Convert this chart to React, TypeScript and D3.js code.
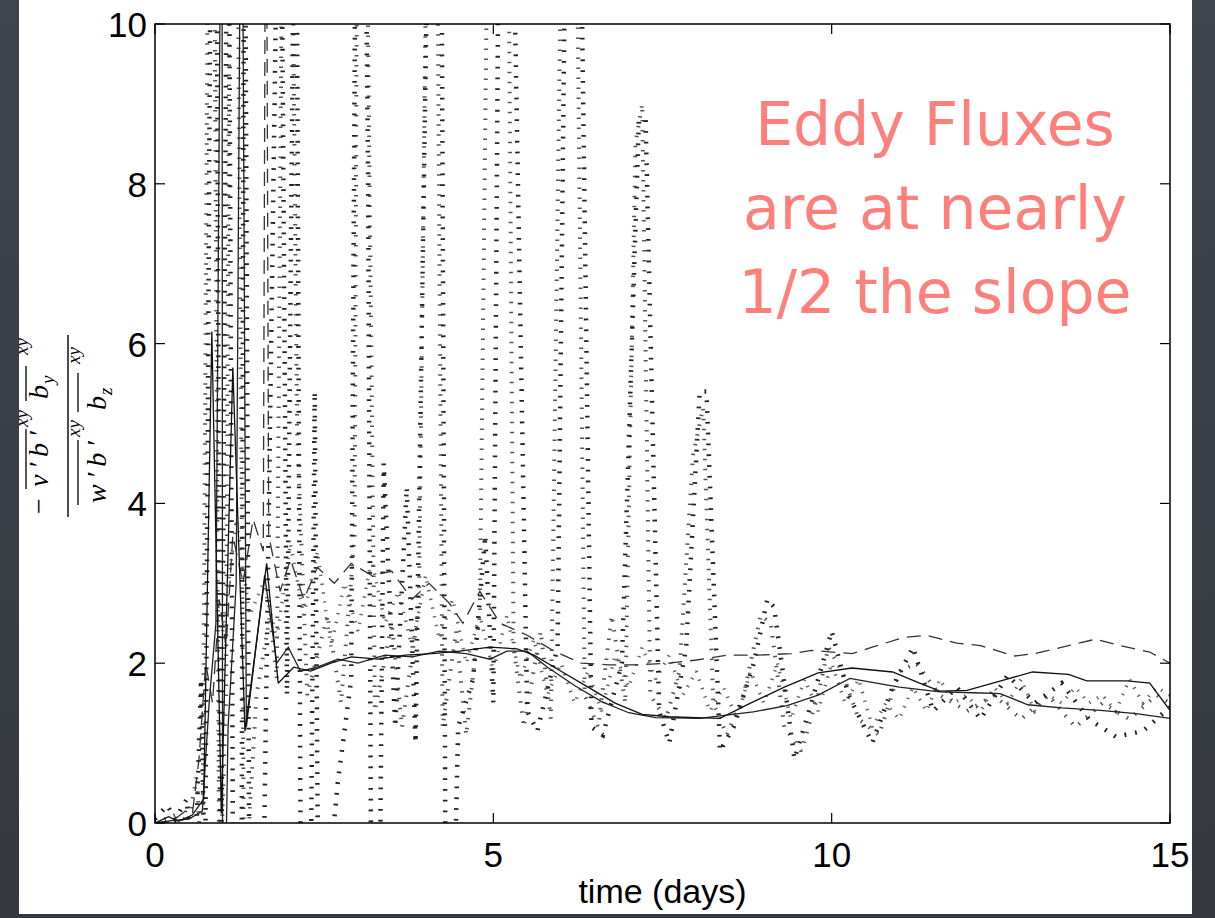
import React from 'react';
import * as d3 from 'd3';

type P = [number, number];

const xTicks = [0, 5, 10, 15];
const yTicks = [0, 2, 4, 6, 8, 10];
const xLabel = 'time (days)';
const titleLines = ['Eddy Fluxes', 'are at nearly', '1/2 the slope'];

// solid curves
const solidA: P[] = [[0,0],[0.2,0.08],[0.35,0.02],[0.55,0.1],[0.72,0.3],[0.84,6.15],[0.98,0.12],[1.15,5.7],[1.33,1.15],[1.65,3.25],[1.82,1.75],[2.05,1.95],[2.3,1.9],[2.6,2.0],[2.9,2.08],[3.3,2.05],[3.7,2.1],[4.1,2.12],[4.5,2.15],[4.95,2.2],[5.35,2.18],[5.6,2.1],[6.0,1.9],[6.4,1.7],[6.8,1.5],[7.2,1.36],[7.6,1.33],[8.0,1.32],[8.35,1.31],[8.8,1.5],[9.3,1.7],[9.8,1.88],[10.3,1.94],[10.9,1.89],[11.3,1.75],[11.6,1.65],[12.0,1.66],[12.5,1.78],[12.97,1.89],[13.5,1.86],[13.77,1.78],[14.37,1.78],[14.7,1.75],[15,1.41]];
const solidB: P[] = [[0,0],[0.25,0.03],[0.5,0.05],[0.7,0.15],[0.8,1.5],[0.9,2.5],[0.99,14],[1.0,-3],[1.08,1.2],[1.2,3.0],[1.28,14],[1.35,1.2],[1.62,3.1],[1.8,2.0],[1.97,2.2],[2.15,1.9],[2.4,1.95],[2.7,2.05],[3.0,2.0],[3.4,2.1],[3.8,2.08],[4.2,2.15],[4.6,2.12],[4.95,2.05],[5.2,2.15],[5.5,2.15],[5.8,1.95],[6.2,1.72],[6.6,1.52],[7.0,1.38],[7.4,1.32],[8.05,1.31],[8.84,1.39],[9.34,1.47],[9.8,1.6],[10.27,1.81],[10.6,1.76],[11.0,1.7],[11.6,1.64],[12.1,1.63],[12.49,1.62],[12.9,1.48],[13.4,1.44],[13.97,1.41],[14.5,1.37],[15,1.31]];
// long dashed curve
const dashed: P[] = [[0,0],[0.25,0.02],[0.45,0.15],[0.55,0.1],[0.65,0.8],[0.75,2.0],[0.85,1.5],[0.95,2.8],[1.05,2.2],[1.15,3.6],[1.3,3.0],[1.45,3.8],[1.6,3.4],[1.64,14],[1.68,3.6],[1.85,2.9],[2.0,3.3],[2.2,2.8],[2.4,3.2],[2.65,3.0],[2.9,3.25],[3.2,3.1],[3.5,3.15],[3.8,2.8],[4.05,3.0],[4.35,2.75],[4.55,2.5],[4.8,2.9],[5.1,2.5],[5.5,2.35],[5.9,2.15],[6.3,2.0],[6.7,1.98],[7.1,1.98],[7.6,2.0],[8.0,2.04],[8.45,2.1],[8.9,2.1],[9.4,2.12],[9.7,2.16],[10.3,2.12],[10.6,2.2],[11.05,2.32],[11.4,2.35],[11.85,2.25],[12.2,2.22],[12.7,2.09],[13.0,2.12],[13.5,2.22],[13.9,2.3],[14.26,2.22],[14.7,2.14],[15,2.0]];
// dotted curves
const dotA: P[] = [[0,0.05],[0.18,0.22],[0.3,0.05],[0.47,0.3],[0.58,-1],[0.68,1.8],[0.74,-1],[0.84,14],[0.9,14],[0.97,-2],[1.08,14],[1.16,-2],[1.28,-1],[1.32,14],[1.4,-2],[1.6,-1],[1.85,14],[1.95,1.6],[2.08,14],[2.16,-2],[2.3,-1],[2.36,5.4],[2.42,-2],[2.7,0.5],[2.9,1.8],[2.98,14],[3.08,14],[3.15,8.0],[3.2,-2],[3.32,-1],[3.38,4.5],[3.55,1.2],[3.72,4.2],[3.85,1.0],[4.08,14],[4.22,14],[4.3,-2],[4.42,-1],[4.48,1.2],[4.7,1.8],[4.88,3.6],[5.0,1.5],[5.1,14],[5.24,14],[5.5,1.4],[5.65,1.15],[5.95,2.2],[6.1,14],[6.25,14],[6.45,1.2],[6.62,1.1],[6.9,2.0],[7.15,8.8],[7.25,8.8],[7.45,1.4],[7.6,1.0],[7.85,2.2],[8.05,5.4],[8.15,5.4],[8.35,0.9],[8.55,1.2],[8.85,2.0],[9.05,2.8],[9.15,2.7],[9.45,0.8],[9.7,1.5],[10.0,2.4],[10.25,1.6],[10.6,1.0],[10.9,1.7],[11.2,2.2],[11.5,1.4],[11.85,1.7],[12.2,1.3],[12.6,1.85],[13.0,1.5],[13.4,1.75],[13.8,1.3],[14.2,1.08],[14.6,1.15],[15,1.45]];
const dotB: P[] = [[0,0],[0.3,0.1],[0.5,0.02],[0.62,0.6],[0.7,-1],[0.8,14],[0.86,14],[0.95,-1],[1.05,1.5],[1.12,14],[1.2,14],[1.32,-1],[1.5,1.6],[1.7,2.6],[1.8,1.8],[1.9,14],[2.0,14],[2.1,4.9],[2.25,1.6],[2.55,2.6],[2.75,1.5],[2.95,3.6],[3.0,14],[3.1,14],[3.25,1.4],[3.5,2.5],[3.65,1.2],[3.9,2.7],[4.05,14],[4.15,14],[4.25,1.2],[4.45,2.4],[4.6,1.1],[4.8,2.6],[4.95,14],[5.2,14],[5.3,2.2],[5.45,1.2],[5.7,2.4],[5.85,1.3],[6.05,14],[6.2,14],[6.35,1.6],[6.55,1.2],[6.75,2.6],[6.95,1.5],[7.1,8.5],[7.2,9],[7.32,1.6],[7.55,1.3],[7.75,1.9],[7.95,4.6],[8.1,5.2],[8.25,1.5],[8.45,1.1],[8.7,1.6],[8.95,2.6],[9.1,2.5],[9.3,1.2],[9.55,0.9],[9.8,1.6],[9.95,2.2],[10.15,1.9],[10.4,1.3],[10.7,1.1],[11.0,1.9],[11.25,2.0],[11.6,1.6],[12.0,1.4],[12.4,1.6],[12.8,1.3],[13.2,1.6],[13.6,1.2],[14.0,1.5],[14.4,1.3],[14.8,1.6],[15,1.5]];
const dotC: P[] = [[1.0,2.4],[1.2,3.8],[1.4,2.6],[1.6,3.0],[1.8,2.3],[2.0,3.5],[2.2,2.6],[2.4,3.4],[2.6,2.2],[2.8,3.0],[3.0,2.4],[3.2,3.3],[3.4,2.5],[3.6,2.9],[3.8,2.2],[4.0,3.1],[4.2,2.3],[4.4,2.8],[4.6,2.0],[4.8,2.6],[5.0,1.9],[5.2,2.6],[5.4,1.8],[5.6,2.3],[5.8,1.6],[6.0,2.0],[6.2,1.5],[6.4,1.9],[6.6,1.4],[6.8,2.1],[7.0,1.7],[7.2,2.2],[7.4,1.8],[7.6,2.1],[7.8,1.6],[8.0,1.9],[8.2,1.4],[8.4,1.7],[8.6,1.3],[8.8,1.9],[9.0,1.5],[9.2,2.0],[9.4,1.3],[9.6,1.8],[9.8,1.4],[10.0,2.0],[10.2,1.5],[10.4,1.8],[10.6,1.2],[10.8,1.5],[11.0,1.3],[11.2,1.7],[11.4,1.4],[11.6,1.8],[11.8,1.5],[12.0,1.6],[12.2,1.4],[12.4,1.7],[12.6,1.5],[12.8,1.8],[13.0,1.4],[13.2,1.6],[13.4,1.5],[13.6,1.7],[13.8,1.5],[14.0,1.6],[14.2,1.4],[14.4,1.8],[14.6,1.5],[14.8,1.7],[15,1.6]];

export default function App() {
  const W = 1215, H = 918;
  const L = 155, R = 1170, T = 24, B = 823;
  const x = d3.scaleLinear().domain([0, 15]).range([L, R]);
  const y = d3.scaleLinear().domain([0, 10]).range([B, T]);
  const line = d3.line<P>().x(d => x(d[0])).y(d => y(d[1]));
  const tickFont = "'Liberation Sans', Arial, Helvetica, sans-serif";
  const mathFont = "'Liberation Serif', 'Times New Roman', serif";

  const series = [
    { d: dotC, stroke: '#666', w: 3.5, dash: '1.4 7.5' },
    { d: dotB, stroke: '#555', w: 4, dash: '1.5 8.5' },
    { d: dotA, stroke: '#222', w: 4.5, dash: '1.8 9' },
    { d: dashed, stroke: '#333', w: 1.3, dash: '14 8' },
    { d: solidB, stroke: '#222', w: 1.3, dash: undefined },
    { d: solidA, stroke: '#111', w: 1.3, dash: undefined },
  ];

  return (
    <svg width={W} height={H} style={{ position: 'absolute', left: 0, top: 0 }}>
      <defs>
        <clipPath id="plotclip"><rect x={L} y={T} width={R - L} height={B - T} /></clipPath>
        <linearGradient id="bg" x1="0" y1="0" x2="0" y2="1">
          <stop offset="0" stopColor="#40444d" />
          <stop offset="1" stopColor="#35383f" />
        </linearGradient>
      </defs>
      <rect x={0} y={0} width={W} height={H} fill="url(#bg)" />
      <rect x={19} y={0} width={1173} height={914} fill="#fff" />

      <g clipPath="url(#plotclip)">
        {series.map((s, i) => (
          <path key={i} d={line(s.d) || ''} fill="none" stroke={s.stroke} strokeWidth={s.w}
            strokeDasharray={s.dash} strokeLinecap="butt" strokeLinejoin="miter" strokeMiterlimit={2} />
        ))}
      </g>

      {/* frame */}
      <rect x={L} y={T} width={R - L} height={B - T} fill="none" stroke="#000" strokeWidth={1.5} />
      {xTicks.map(t => (
        <g key={'x' + t}>
          <line x1={x(t)} x2={x(t)} y1={B} y2={B - 10} stroke="#000" strokeWidth={1.2} />
          <line x1={x(t)} x2={x(t)} y1={T} y2={T + 10} stroke="#000" strokeWidth={1.2} />
          <text x={x(t)} y={867} textAnchor="middle" fontFamily={tickFont} fontSize={35} fill="#000">{t}</text>
        </g>
      ))}
      {yTicks.map(t => (
        <g key={'y' + t}>
          <line x1={L} x2={L + 10} y1={y(t)} y2={y(t)} stroke="#000" strokeWidth={1.2} />
          <line x1={R} x2={R - 10} y1={y(t)} y2={y(t)} stroke="#000" strokeWidth={1.2} />
          <text x={147} y={y(t) + 13} textAnchor="end" fontFamily={tickFont} fontSize={35} fill="#000">{t}</text>
        </g>
      ))}
      <text x={(L + R) / 2} y={903} textAnchor="middle" fontFamily={tickFont} fontSize={34} fill="#000">{xLabel}</text>

      {/* y label: fraction rotated */}
      <g transform="translate(68,426) rotate(-90)" fontFamily={mathFont} fontStyle="italic" fill="#000">
        <line x1={-91} x2={91} y1={0} y2={0} stroke="#000" strokeWidth={1.4} />
        {/* numerator */}
        <text x={-88} y={-20} fontSize={28} fontStyle="normal">−</text>
        <line x1={-63} x2={-3} y1={-42} y2={-42} stroke="#000" strokeWidth={1.3} />
        <text x={-61} y={-20} fontSize={28} textLength={56} lengthAdjust="spacing">v′b′</text>
        <text x={-1} y={-40} fontSize={18} textLength={17} lengthAdjust="spacingAndGlyphs">xy</text>
        <line x1={25} x2={60} y1={-42} y2={-42} stroke="#000" strokeWidth={1.3} />
        <text x={27} y={-20} fontSize={28}>b</text>
        <text x={42} y={-14} fontSize={19}>y</text>
        <text x={71} y={-40} fontSize={18} textLength={17} lengthAdjust="spacingAndGlyphs">xy</text>
        {/* denominator */}
        <line x1={-79} x2={-14} y1={10} y2={10} stroke="#000" strokeWidth={1.3} />
        <text x={-77} y={38} fontSize={28} textLength={62} lengthAdjust="spacing">w′b′</text>
        <text x={-11} y={12} fontSize={18} textLength={17} lengthAdjust="spacingAndGlyphs">xy</text>
        <line x1={14} x2={53} y1={10} y2={10} stroke="#000" strokeWidth={1.3} />
        <text x={16} y={38} fontSize={28}>b</text>
        <text x={31} y={44} fontSize={19}>z</text>
        <text x={62} y={12} fontSize={18} textLength={17} lengthAdjust="spacingAndGlyphs">xy</text>
      </g>

      {/* annotation */}
      {titleLines.map((s, i) => (
        <text key={i} x={935} y={145 + i * 84} textAnchor="middle" fontSize={60} fill="#ff7f7a"
          fontFamily="'Comic Sans MS', 'DejaVu Sans', sans-serif">{s}</text>
      ))}
    </svg>
  );
}
